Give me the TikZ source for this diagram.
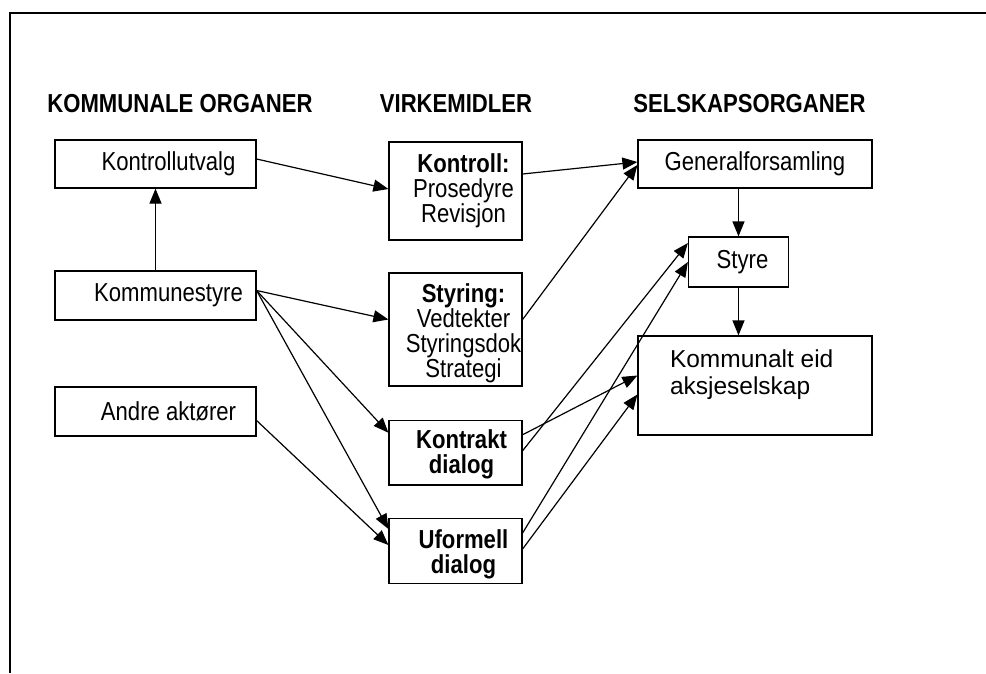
\documentclass[tikz,border=0pt]{standalone}
\usepackage{fontspec}
\setmainfont[FakeStretch=0.85]{Liberation Sans}
\newfontfamily\widefont{Liberation Sans}
\usetikzlibrary{arrows.meta}
\newcommand\boxfont{\fontsize{26}{25}\selectfont}
\tikzstyle{orgbox} = [draw, inner sep=0pt]
\tikzstyle{leftbox} = [orgbox, minimum width=201pt, minimum height=49pt]
\tikzstyle{toolbox} = [orgbox, minimum width=133pt]
\tikzstyle{heading} = [inner sep=0pt, font=\boxfont\bfseries]

\begin{document}
\begin{tikzpicture}[x=1pt, y=-1pt, >={Triangle[length=15pt,width=12pt]}, line width=1.2pt, font=\boxfont]
        \useasboundingbox (0,0) rectangle (986,673);
        \draw[line width=2pt] (986,13) -- (10,13) -- (10,673);

        \path[] node[heading] (hkom) at (180,103.5) {KOMMUNALE ORGANER};
        \path[] node[heading] (hvirk) at (456,103.5) {VIRKEMIDLER};
        \path[] node[heading] (hsels) at (749.5,103.5) {SELSKAPSORGANER};

        \path[] node[leftbox,minimum height=48pt,label={[xshift=13pt]center:Kontrollutvalg}] (kutvalg) at (155.5,164) {};
        \path[] node[leftbox,label={[xshift=13pt]center:Kommunestyre}] (kstyre) at (155.5,295.5) {};
        \path[] node[leftbox,label={[xshift=13pt]center:Andre aktører}] (andre) at (155.5,411.5) {};

        \path[] node[toolbox,minimum height=98pt,label={[xshift=8pt,align=center]center:\textbf{Kontroll:}\\Prosedyre\\Revisjon}] (kontroll) at (455.5,191) {};
        \path[] node[toolbox,minimum height=113pt,label={[xshift=8pt,yshift=-4pt,align=center]center:\textbf{Styring:}\\Vedtekter\\Styringsdok\\Strategi}] (styring) at (455.5,329.5) {};
        \path[] node[toolbox,minimum height=64.5pt,label={[xshift=6pt,yshift=-2pt,align=center,font=\boxfont\bfseries]center:Kontrakt\\dialog}] (kontrakt) at (455.5,452.75) {};
        \path[] node[toolbox,minimum height=65pt,label={[xshift=8pt,yshift=-3pt,align=center,font=\boxfont\bfseries]center:Uformell\\dialog}] (uformell) at (455.5,551) {};

        \path[] node[orgbox,minimum width=234pt,minimum height=48pt] (gf) at (755,164) {Generalforsamling};
        \path[] node[orgbox,minimum width=100pt,minimum height=50pt,label={[xshift=4pt]center:Styre}] (styre) at (738.5,262) {};
        \path[] node[orgbox,minimum width=234pt,minimum height=99pt,label={[anchor=north west,xshift=32pt,yshift=-14pt,inner sep=0pt,align=left,font=\widefont\fontsize{24.5}{27}\selectfont]north west:Kommunalt eid\\aksjeselskap}] (kaks) at (755,385.5) {};

        \path[->] (kstyre.north) edge (kutvalg.south);
        \path[->] ([yshift=5pt]kutvalg.east) edge ([yshift=2pt]kontroll.west);
        \path[->] ([yshift=5pt]kstyre.east) edge ([yshift=10pt]styring.west);
        \path[->] ([yshift=5pt]kstyre.east) edge ([yshift=20pt]kontrakt.west);
        \path[->] ([yshift=5pt]kstyre.east) edge ([yshift=22pt]uformell.west);
        \path[->] ([yshift=-9pt]andre.east) edge ([yshift=6pt]uformell.west);

        \path[->] ([yshift=17pt]kontroll.east) edge ([yshift=2pt]gf.west);
        \path[->] ([yshift=10pt]styring.east) edge ([yshift=-1pt]gf.west);
        \path[->] ([yshift=18pt]kontrakt.east) edge ([yshift=10pt]kaks.west);
        \path[->] ([yshift=2pt]kontrakt.east) edge ([yshift=19pt]styre.west);
        \path[->] ([yshift=18pt]uformell.east) edge (styre.west);
        \path[->] ([yshift=2pt]uformell.east) edge ([yshift=-9pt]kaks.west);

        \path[->] (styre.north |- gf.south) edge (styre.north);
        \path[->] (styre.south) edge (styre.south |- kaks.north);
      \end{tikzpicture}
\end{document}
